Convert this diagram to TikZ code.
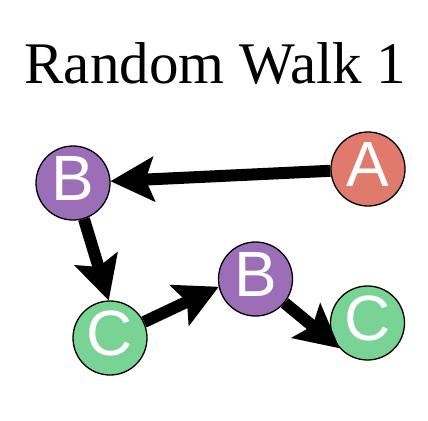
\documentclass[tikz,border=0pt]{standalone}
\usepackage{fontspec}
\setmainfont{Liberation Serif}
\newfontfamily\nodefont{Liberation Sans}
\usetikzlibrary{arrows.meta}
\definecolor{cred}{HTML}{E07A6C}
\definecolor{cpurple}{HTML}{9D6EB8}
\definecolor{cgreen}{HTML}{79D395}
\tikzset{
  state/.style={circle, draw=black, line width=1.3pt, minimum size=74pt, inner sep=0pt,
    text=white, font=\nodefont\fontsize{64}{64}\selectfont, text depth=10pt},
  walk/.style={line width=12pt, -{Stealth[length=44pt, width=46pt, inset=9pt, line width=0pt]}}
}
\begin{document}
\begin{tikzpicture}[x=1pt, y=-1pt]
\useasboundingbox (0,0) rectangle (428,420);
\node[font=\fontsize{59}{59}\selectfont, anchor=base] (title) at (215.5,83) {Random Walk 1};
\node[state, fill=cred] (A) at (368,169) {A};
\node[state, fill=cpurple] (B1) at (73,183) {B};
\node[state, fill=cgreen] (C1) at (110,338) {C};
\node[state, fill=cpurple] (B2) at (255.5,279) {B};
\node[state, fill=cgreen] (C2) at (367.5,323) {C};
\draw[walk] (A) -- (B1);
\draw[walk] (B1) -- (C1.92);
\draw[walk] (C1) -- (B2.192);
\draw[walk] (B2) -- (C2.222);
\end{tikzpicture}
\end{document}
